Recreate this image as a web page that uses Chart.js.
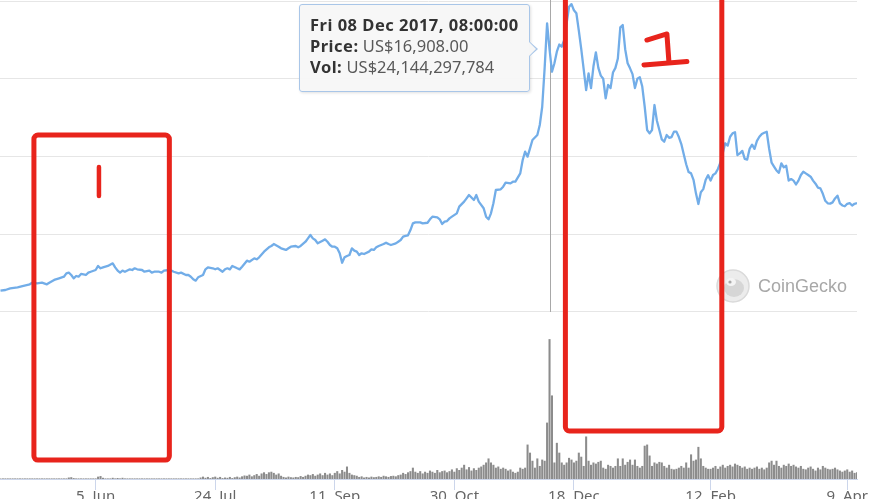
<!DOCTYPE html>
<html>
<head>
<meta charset="utf-8">
<script src="https://cdn.jsdelivr.net/npm/chart.js@4.4.1/dist/chart.umd.min.js"></script>
<style>
html, body { margin: 0; padding: 0; background: #fff; overflow: hidden; width: 870px; height: 499px; }
#wrap { position: relative; width: 870px; height: 520px; }
#tip {
    position: absolute; display: none; box-sizing: border-box;
    width: 231px; height: 88px; padding: 9px 0 0 10px;
    background: rgba(246,246,246,0.93); border: 1px solid #a9c6e8; border-radius: 3px;
    box-shadow: 1px 1px 3px rgba(0,0,0,0.12);
    font-family: "Noto Sans", sans-serif; font-size: 16.5px; line-height: 21px; color: #595959;
    white-space: nowrap;
}
#tip b { color: #333; letter-spacing: 0.5px; }
#tip .caret-o, #tip .caret-i { position: absolute; width: 0; height: 0; border-style: solid; }
#tip .caret-o { right: -9px; top: 36px; border-width: 8px 0 8px 9px; border-color: transparent transparent transparent #a9c6e8; }
#tip .caret-i { right: -7px; top: 37px; border-width: 7px 0 7px 7px; border-color: transparent transparent transparent #f6f6f6; }
</style>
</head>
<body>
<div id="wrap">
    <canvas id="chart" width="870" height="520"></canvas>
    <div id="tip"></div>
</div>
<script>
/* --------------------------
   DATA
--------------------------- */
const startDate = '2017-04-27';
const tickDates = ['2017-06-05', '2017-07-24', '2017-09-11', '2017-10-30', '2017-12-18', '2018-02-12', '2018-04-09'];
const priceGrid = [0, 5000, 10000, 15000, 20000];
const hoverDay = 225;

// days after startDate
const priceDays = [
    0, 2, 4, 7, 9, 12, 13, 15, 17, 19, 20, 22, 24, 26, 27, 28, 29, 30, 31, 32, 33, 35, 36, 37, 39,
    40, 41, 42, 44, 46, 47, 48, 49, 50, 51, 53, 54, 55, 56, 58, 59, 61, 62, 63, 65, 66, 67, 69, 70, 71,
    73, 74, 76, 77, 78, 79, 80, 81, 83, 84, 85, 87, 88, 89, 91, 92, 93, 94, 95, 97, 98, 99,
    101, 102, 104, 105, 106, 108, 110, 111, 112, 114, 115, 117, 118, 119, 121, 122, 123, 125, 126, 127,
    128, 129, 130, 132, 133, 134, 135, 136, 137, 138, 139, 140, 141, 142, 143, 144, 145, 146, 147, 148,
    149, 151, 152, 153, 154, 155, 157, 158, 159, 160, 162, 163, 164, 165, 166, 167, 168, 169, 170, 172,
    173, 175, 176, 177, 179, 180, 181, 182, 183, 184, 185, 187, 188, 190, 191, 192, 194, 195, 196, 198,
    199, 200, 201, 202, 203, 205, 206, 207, 209, 210, 211, 213, 214, 215, 216, 217, 218, 220, 221, 222,
    223, 224, 225, 226, 227, 228, 229, 230, 231, 233, 234, 235, 236, 237, 238, 239, 240, 241, 242, 243,
    244, 245, 246, 247, 248, 249, 250, 251, 252, 253, 254, 255, 256, 257, 258, 259, 260, 261, 262, 263,
    264, 265, 266, 267, 268, 269, 270, 271, 272, 273, 274, 275, 276, 277, 278, 279, 280, 281, 282, 283,
    284, 285, 286, 287, 288, 289, 290, 291, 292, 293, 294, 295, 297, 298, 299, 300, 301, 302, 303, 304,
    305, 306, 307, 308, 309, 310, 311, 312, 313, 314, 315, 316, 317, 318, 319, 320, 321, 322, 323, 324,
    325, 326, 327, 328, 329, 330, 331, 332, 333, 334, 335, 336, 337, 338, 339, 340, 341, 342, 343, 344,
    345, 346, 347, 348, 349, 350, 351
];
// US$
const prices = [
    1370, 1415, 1520, 1585, 1670, 1780, 1885, 1843, 1885, 1780, 1885, 2060, 2165, 2270, 2485, 2530, 2380, 2165, 2315, 2270, 2445, 2380, 2530, 2590, 2700,
    2960, 2810, 2870, 2960, 3130, 2870, 2660, 2530, 2660, 2590, 2745, 2700, 2810, 2745, 2700, 2590, 2660, 2530, 2590, 2590, 2530, 2660, 2700, 2660, 2590,
    2485, 2530, 2380, 2380, 2270, 2100, 2015, 2230, 2380, 2745, 2870, 2810, 2745, 2810, 2590, 2745, 2810, 2740, 2960, 2810, 2740, 2915,
    3300, 3235, 3450, 3390, 3515, 3880, 4160, 4245, 4370, 4200, 4095, 3990, 4095, 4200, 4245, 4160, 4245, 4520, 4735, 4950,
    4735, 4630, 4415, 4585, 4670, 4520, 4310, 4200, 4200, 4095, 3775, 3170, 3515, 3600, 3665, 4095, 3945, 3880, 3665, 3775,
    3730, 3880, 4030, 3990, 4160, 4245, 4370, 4460, 4370, 4310, 4415, 4520, 4630, 4845, 4890, 4930, 5270, 5700, 5765, 5765,
    5700, 5740, 5960, 6130, 6085, 5960, 5660, 5810, 5850, 6020, 6130, 6345, 6775, 7095, 7310, 7520, 7200, 7520, 7095, 6670,
    6130, 5960, 6345, 6990, 7845, 7890, 8060, 8315, 8270, 8380, 8380, 8915, 9775, 10310, 9990, 10525, 11060, 11380, 12025, 13200,
    15700, 18560, 16908, 15450, 16000, 16740, 17200, 17060, 17490, 19630, 19800, 19400, 19210, 18100, 16900, 15600, 14275, 15345, 14400, 15800,
    16700, 15700, 15200, 15000, 13740, 14600, 14400, 15400, 15700, 16300, 18300, 18455, 16900, 16000, 15670, 15300, 14400, 15000, 15100, 14500,
    13200, 11700, 11490, 11700, 13310, 12300, 11700, 11100, 10950, 11380, 11200, 11250, 11600, 11600, 11250, 10800, 10150, 9500, 9000, 8915,
    8500, 7630, 6945, 7700, 7900, 8500, 8800, 8450, 8810, 8915, 9200, 9600, 10850, 10700, 11270, 11490, 11560, 10095, 10200, 10360,
    9850, 9800, 10500, 10760, 10490, 11000, 11270, 11450, 11530, 11590, 10500, 9600, 9345, 9100, 8950, 9560, 9300, 9400, 8450, 8550,
    8450, 8200, 8450, 8810, 9020, 8915, 8810, 8700, 8450, 8250, 8000, 7950, 7600, 7150, 6990, 6970, 7050, 7300, 7480, 6990,
    6850, 6800, 6960, 7000, 6850, 6960, 7000
];
// billions of US$, one per day from startDate
const volumes = [
    0.05, 0.05, 0.05, 0.05, 0.05, 0.05, 0.05, 0.05, 0.05, 0.05,
    0.05, 0.05, 0.05, 0.05, 0.05, 0.05, 0.05, 0.05, 0.05, 0.05,
    0.05, 0.05, 0.05, 0.05, 0.05, 0.05, 0.05, 0.05, 0.2, 0.25,
    0.1, 0.05, 0.05, 0.05, 0.05, 0.05, 0.05, 0.05, 0.05, 0.05,
    0.35, 0.45, 0.15, 0.05, 0.05, 0.05, 0.15, 0.05, 0.12, 0.05,
    0.15, 0.05, 0.05, 0.05, 0.05, 0.05, 0.05, 0.05, 0.05, 0.05,
    0.05, 0.05, 0.05, 0.05, 0.05, 0.05, 0.05, 0.05, 0.05, 0.05,
    0.05, 0.05, 0.05, 0.05, 0.05, 0.05, 0.05, 0.05, 0.05, 0.05,
    0.05, 0.05, 0.2, 0.35, 0.15, 0.3, 0.1, 0.25, 0.35, 0.15,
    0.3, 0.1, 0.2, 0.15, 0.3, 0.1, 0.25, 0.35, 0.2, 0.4,
    0.55, 0.5, 0.7, 0.4, 0.6, 0.8, 0.5, 0.9, 1.1, 0.8,
    1.1, 1.2, 1.0, 0.7, 0.9, 0.5, 0.3, 0.2, 0.35, 0.25,
    0.2, 0.3, 0.25, 0.45, 0.3, 0.5, 0.7, 0.6, 0.8, 0.5,
    0.7, 0.9, 0.6, 1.0, 0.7, 0.9, 0.6, 1.0, 1.3, 0.9,
    1.5, 1.2, 2.1, 1.0, 0.7, 0.6, 0.5, 0.3, 0.4, 0.2,
    0.3, 0.2, 0.35, 0.25, 0.3, 0.4, 0.3, 0.5, 0.4, 0.3,
    0.45, 0.5, 0.4, 0.6, 0.7, 1.0, 0.8, 1.1, 1.3, 1.9,
    1.2, 1.0, 1.3, 0.9, 1.2, 1.0, 1.4, 1.2, 1.0, 1.5,
    1.1, 1.3, 1.4, 1.1, 1.3, 1.6, 1.2, 1.8, 1.5, 1.9,
    2.4, 1.6, 2.0, 1.4, 1.8, 1.5, 1.9, 2.1, 2.4, 2.8,
    3.5, 2.8, 2.4, 1.9, 2.1, 1.7, 1.9, 1.7, 1.4, 1.6,
    1.2, 1.0, 1.2, 1.9, 1.7, 1.9, 5.9, 4.5, 3.1, 1.9,
    3.5, 2.2, 3.3, 3.1, 9.7, 24.144297784, 14.4, 2.8, 6.2, 4.5,
    2.8, 2.4, 2.8, 3.6, 3.3, 2.8, 3.1, 4.5, 3.8, 2.2,
    7.3, 3.1, 2.4, 2.8, 2.6, 2.9, 3.1, 1.9, 1.7, 2.4,
    2.2, 1.9, 2.2, 3.5, 2.2, 3.5, 2.4, 2.9, 3.3, 2.4,
    3.3, 2.2, 1.9, 2.2, 5.7, 5.9, 4.0, 2.2, 2.8, 2.6,
    2.9, 2.8, 2.2, 1.9, 2.4, 1.7, 1.6, 1.7, 1.9, 2.2,
    1.9, 2.8, 1.9, 4.2, 3.1, 3.3, 5.5, 3.5, 2.2, 1.9,
    1.7, 1.7, 1.9, 2.2, 1.7, 2.1, 2.4, 1.9, 2.2, 2.4,
    2.1, 2.6, 2.4, 2.2, 1.9, 2.1, 1.7, 1.9, 1.7, 1.9,
    2.1, 1.7, 1.9, 1.6, 1.9, 2.8, 3.1, 2.4, 3.1, 2.2,
    1.9, 2.4, 2.2, 2.6, 2.2, 2.4, 2.1, 1.9, 2.2, 1.7,
    1.6, 1.9, 2.1, 1.7, 1.4, 1.9, 1.6, 2.2, 1.9, 1.7,
    1.6, 1.7, 1.9, 1.6, 1.4, 1.2, 1.4, 1.6, 1.2, 1.4,
    1.0, 1.1
];

// hand drawn marks, in [day, price] units
const highlightBoxes = [
    { from: 13.7, to: 69.2, top: 11380, bottom: -9520 },
    { from: 231.5, to: 295.6, top: 20650, bottom: -7650 }
];
const noteOne = [[[40.35, 9330], [40.35, 7460]]];
const noteTwo = [
    [[264.9, 17490], [273.1, 17880], [273.9, 16140]],
    [[263.7, 15890], [281.3, 16110]]
];

/* --------------------------
   HELPERS
--------------------------- */
const DAY = 86400000;
const t0 = Date.parse(startDate + 'T00:00:00Z');
const MONTHS = ['Jan', 'Feb', 'Mar', 'Apr', 'May', 'Jun', 'Jul', 'Aug', 'Sep', 'Oct', 'Nov', 'Dec'];
const WEEKDAYS = ['Sun', 'Mon', 'Tue', 'Wed', 'Thu', 'Fri', 'Sat'];
const tickDays = tickDates.map(function(s){ return Math.round((Date.parse(s + 'T00:00:00Z') - t0) / DAY); });

function pad(n){ return (n < 10 ? '0' : '') + n; }

function tickLabel(day){
    const d = new Date(t0 + day * DAY);
    return d.getUTCDate() + '. ' + MONTHS[d.getUTCMonth()];
}

function tipTitle(day){
    const d = new Date(t0 + day * DAY + 8 * 3600000); // shown at UTC+8
    return WEEKDAYS[d.getUTCDay()] + ' ' + pad(d.getUTCDate()) + ' ' + MONTHS[d.getUTCMonth()] + ' ' +
        d.getUTCFullYear() + ', ' + pad(d.getUTCHours()) + ':' + pad(d.getUTCMinutes()) + ':' + pad(d.getUTCSeconds());
}

function renderTip(ctx){
    const tooltip = ctx.tooltip;
    const el = document.getElementById('tip');
    if (tooltip.opacity === 0 || !tooltip.dataPoints || !tooltip.dataPoints.length) {
        el.style.display = 'none';
        return;
    }
    const p = tooltip.dataPoints[0].raw;
    const vol = volumes[p.x];
    el.innerHTML =
        '<b>' + tipTitle(p.x) + '</b><br>' +
        '<b>Price:</b> US$' + p.y.toLocaleString('en-US', { minimumFractionDigits: 2, maximumFractionDigits: 2 }) + '<br>' +
        '<b>Vol:</b> US$' + Math.round(vol * 1e9).toLocaleString('en-US') +
        '<span class="caret-o"></span><span class="caret-i"></span>';
    el.style.display = 'block';
    el.style.left = Math.round(tooltip.caretX - 20 - el.offsetWidth) + 'px';
    el.style.top = Math.round(tooltip.caretY - 45) + 'px';
}

/* --------------------------
   PLUGINS
--------------------------- */
const crosshair = {
    id: 'crosshair',
    beforeDatasetsDraw: function(chart){
        const active = chart.tooltip.getActiveElements();
        if (!active.length) return;
        const c = chart.ctx;
        const x = Math.round(active[0].element.x) + 0.5;
        c.save();
        c.strokeStyle = '#a8a8a8';
        c.lineWidth = 1;
        c.beginPath();
        c.moveTo(x, 0);
        c.lineTo(x, chart.scales.y.getPixelForValue(0));
        c.stroke();
        c.restore();
    }
};

const watermark = {
    id: 'watermark',
    beforeDatasetsDraw: function(chart){
        const c = chart.ctx;
        const r = chart.chartArea.right;
        const y0 = chart.scales.y.getPixelForValue(0);
        const cx = r - 124, cy = y0 - 26;
        c.save();
        c.fillStyle = '#ececec';
        c.strokeStyle = '#dadada';
        c.lineWidth = 1.5;
        c.beginPath();
        c.arc(cx, cy, 16, 0, Math.PI * 2);
        c.fill();
        c.stroke();
        c.fillStyle = '#d6d6d6';
        c.beginPath();
        c.ellipse(cx + 1, cy + 2, 10, 9, 0, 0, Math.PI * 2);
        c.fill();
        c.fillStyle = '#f4f4f4';
        c.beginPath();
        c.ellipse(cx - 2, cy - 4, 5, 4, 0, 0, Math.PI * 2);
        c.fill();
        c.fillStyle = '#a9a9a9';
        c.beginPath();
        c.arc(cx - 3, cy - 4, 1.6, 0, Math.PI * 2);
        c.fill();
        c.fillStyle = '#a8a8a8';
        c.font = '18px "Liberation Sans", Arial, sans-serif';
        c.textBaseline = 'alphabetic';
        c.fillText('CoinGecko', r - 99, y0 - 20);
        c.restore();
    }
};

const scribbles = {
    id: 'scribbles',
    afterDraw: function(chart){
        const c = chart.ctx;
        const X = function(d){ return chart.scales.x.getPixelForValue(d); };
        const Y = function(v){ return chart.scales.y.getPixelForValue(v); };
        c.save();
        c.strokeStyle = '#e8241c';
        c.lineCap = 'round';
        c.lineJoin = 'round';
        c.lineWidth = 5;
        highlightBoxes.forEach(function(b){
            c.beginPath();
            c.roundRect(X(b.from), Y(b.top), X(b.to) - X(b.from), Y(b.bottom) - Y(b.top), 4);
            c.stroke();
        });
        function strokes(list, w){
            c.lineWidth = w;
            list.forEach(function(path){
                c.beginPath();
                path.forEach(function(pt, i){
                    if (i === 0) c.moveTo(X(pt[0]), Y(pt[1]));
                    else c.lineTo(X(pt[0]), Y(pt[1]));
                });
                c.stroke();
            });
        }
        strokes(noteOne, 4.5);
        strokes(noteTwo, 5);
        c.restore();
    }
};

/* --------------------------
   CHART
--------------------------- */
const chart = new Chart(document.getElementById('chart'), {
    type: 'line',
    data: {
        datasets: [{
            type: 'line',
            label: 'Price',
            data: priceDays.map(function(d, i){ return { x: d, y: prices[i] }; }),
            borderColor: '#72ade8',
            borderWidth: 2.3,
            pointRadius: 0,
            pointHoverRadius: 0,
            tension: 0,
            borderJoinStyle: 'round',
            yAxisID: 'y'
        }, {
            type: 'bar',
            label: 'Vol',
            data: volumes.map(function(v, i){ return { x: i, y: v }; }),
            backgroundColor: '#8c8c8c',
            borderWidth: 0,
            barThickness: 1.4,
            yAxisID: 'y2'
        }]
    },
    options: {
        responsive: false,
        animation: false,
        events: [],
        layout: { padding: { top: 1, right: 13, left: 0, bottom: 0 } },
        plugins: {
            legend: { display: false },
            tooltip: { enabled: false, external: renderTip, mode: 'nearest', intersect: false }
        },
        scales: {
            x: {
                type: 'linear',
                min: -0.2,
                max: 351,
                offset: false,
                afterBuildTicks: function(scale){ scale.ticks = tickDays.map(function(v){ return { value: v }; }); },
                afterFit: function(scale){ scale.height = 41; },
                ticks: {
                    autoSkip: false, maxRotation: 0, padding: -2,
                    color: '#666666',
                    font: { family: '"Noto Sans", sans-serif', size: 15 },
                    callback: function(v){ return tickLabel(v); }
                },
                grid: { offset: false, drawOnChartArea: false, drawTicks: true, tickLength: 11, color: '#ccd6eb' },
                border: { display: true, color: '#ccd6eb', width: 1 }
            },
            y: {
                position: 'left',
                min: -10740, // price pane ends at the volume pane top
                max: 20000,
                afterBuildTicks: function(scale){ scale.ticks = priceGrid.map(function(v){ return { value: v }; }); },
                afterFit: function(scale){ scale.width = 0; },
                ticks: { display: false },
                grid: { color: '#e6e6e6', lineWidth: 1, drawTicks: false },
                border: { display: false }
            },
            y2: {
                display: false,
                position: 'right',
                min: 0,
                max: 82.7
            }
        }
    },
    plugins: [crosshair, watermark, scribbles]
});

chart.tooltip.setActiveElements([{ datasetIndex: 0, index: priceDays.indexOf(hoverDay) }], { x: 0, y: 0 });
chart.draw();
</script>
</body>
</html>
